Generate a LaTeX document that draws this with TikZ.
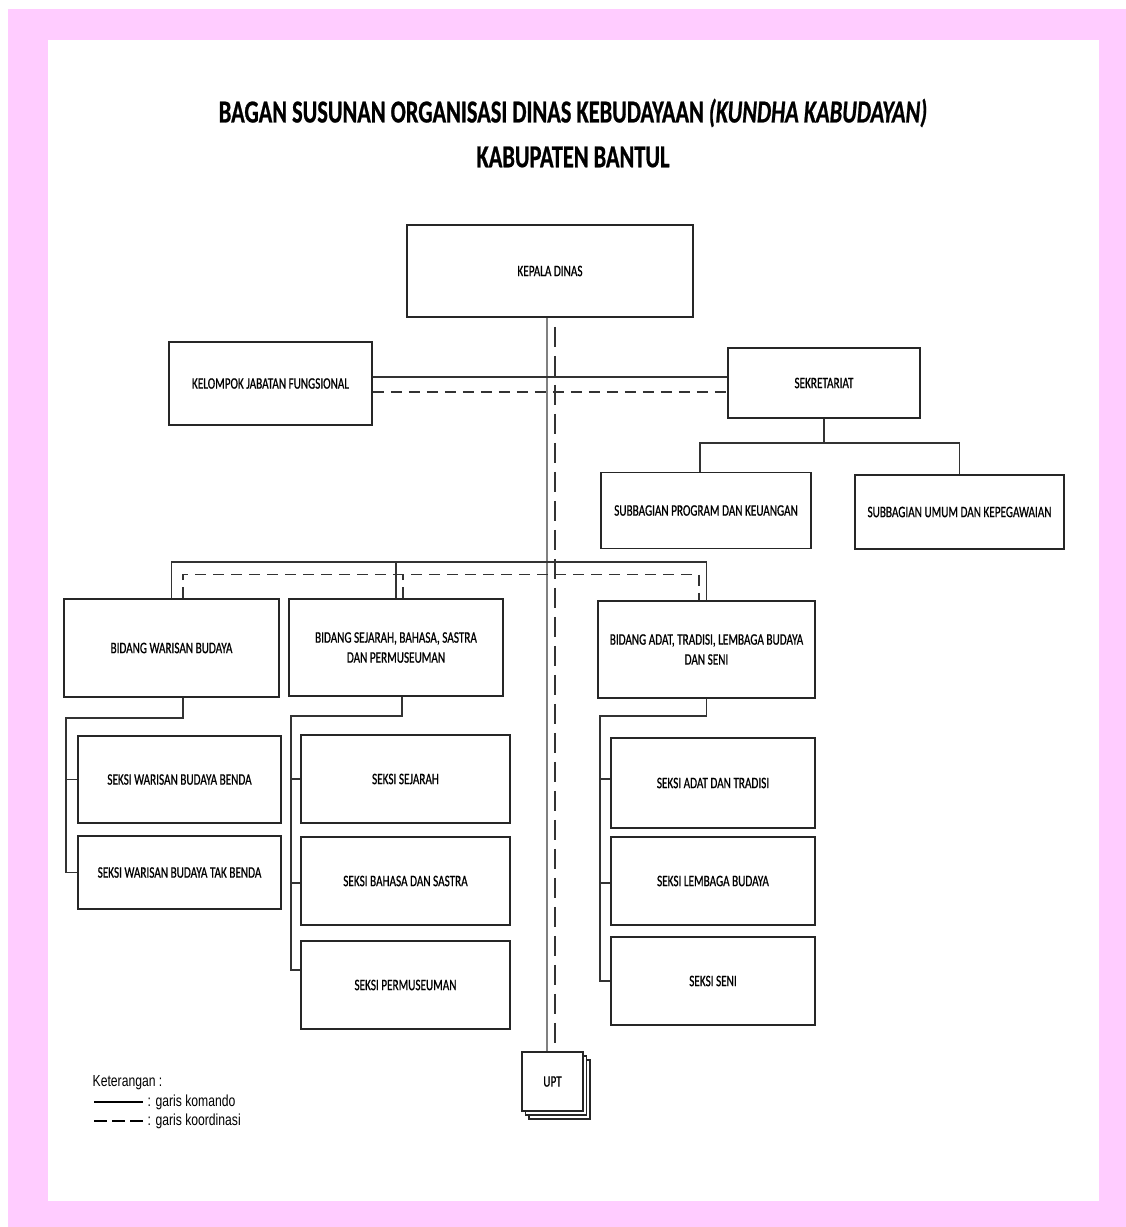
\documentclass[tikz,border=0pt]{standalone}
\usepackage{fontspec}
\setsansfont{Carlito}[FakeStretch=0.7,FakeBold=0.7]
\newfontfamily\ketfont{Liberation Sans}[FakeStretch=0.76]
\usepackage{tikz}
\usetikzlibrary{positioning,calc}
\definecolor{bgpink}{RGB}{255,204,255}
\tikzset{every picture/.style={line width=1.4pt}}
\tikzset{font=\sffamily\fontsize{16}{20}\selectfont}
\tikzstyle{kotak}=[draw=black!85,line width=1.8pt,fill=white,align=center,inner sep=2pt]
\tikzstyle{komando}=[draw=black!80,line width=1.4pt]
\tikzstyle{koordinasi}=[draw=black!80,line width=1.4pt,dash pattern=on 11pt off 7pt]
\tikzstyle{ket}=[anchor=west,inner sep=0pt,font=\ketfont\fontsize{16}{18}\selectfont]

\begin{document}
\begin{tikzpicture}[x=1pt,y=-1pt]
\useasboundingbox (0,0) rectangle (1126,1227);
\fill[bgpink] (8,9) rectangle (1126,1227);
\fill[white] (48,40) rectangle (1099,1201);

\node[font=\sffamily\bfseries\fontsize{32}{38}\selectfont] (judul1) at (573,113)
  {BAGAN SUSUNAN ORGANISASI DINAS KEBUDAYAAN \textit{(KUNDHA KABUDAYAN)}};
\node[font=\sffamily\bfseries\fontsize{32}{38}\selectfont] (judul2) at (573,157) {KABUPATEN BANTUL};

\node[kotak,minimum width=286,minimum height=92] (kepala) at (550,271) {KEPALA DINAS};
\node[kotak,minimum width=203,minimum height=83] (jafung) at (270.5,383.5) {KELOMPOK JABATAN FUNGSIONAL};
\node[kotak,minimum width=192,minimum height=70] (sekre) at (824,383) {SEKRETARIAT};
\node[kotak,minimum width=210,minimum height=76] (subprog) at (706,510.5) {SUBBAGIAN PROGRAM DAN KEUANGAN};
\node[kotak,minimum width=209,minimum height=74] (subumum) at (959.5,512) {SUBBAGIAN UMUM DAN KEPEGAWAIAN};

\node[kotak,minimum width=215,minimum height=98] (bwarisan) at (171.5,648) {BIDANG WARISAN BUDAYA};
\node[kotak,minimum width=214,minimum height=97] (bsejarah) at (396,647.5) {BIDANG SEJARAH, BAHASA, SASTRA\\DAN PERMUSEUMAN};
\node[kotak,minimum width=217,minimum height=97] (badat) at (706.5,649.5) {BIDANG ADAT, TRADISI, LEMBAGA BUDAYA\\DAN SENI};

\node[kotak,minimum width=203,minimum height=87] (swbenda) at (179.5,779.5) {SEKSI WARISAN BUDAYA BENDA};
\node[kotak,minimum width=203,minimum height=73] (swtak) at (179.5,872.5) {SEKSI WARISAN BUDAYA TAK BENDA};
\node[kotak,minimum width=209,minimum height=88] (ssejarah) at (405.5,779) {SEKSI SEJARAH};
\node[kotak,minimum width=209,minimum height=88] (sbahasa) at (405.5,881) {SEKSI BAHASA DAN SASTRA};
\node[kotak,minimum width=209,minimum height=88] (sperm) at (405.5,985) {SEKSI PERMUSEUMAN};
\node[kotak,minimum width=204,minimum height=90] (sadat) at (713,783) {SEKSI ADAT DAN TRADISI};
\node[kotak,minimum width=204,minimum height=88] (slembaga) at (713,881) {SEKSI LEMBAGA BUDAYA};
\node[kotak,minimum width=204,minimum height=88] (sseni) at (713,981) {SEKSI SENI};

\coordinate (uptc) at (552.5,1081.5);
\node[kotak,line width=1.4pt,minimum width=61,minimum height=59] (upt3) at ($(uptc)+(7,8)$) {};
\node[kotak,line width=1.4pt,minimum width=61,minimum height=59] (upt2) at ($(uptc)+(3.5,4)$) {};
\node[kotak,minimum width=61,minimum height=59] (upt) at (uptc) {UPT};

\coordinate (kx) at (547,0);
\coordinate (dx) at (555,0);
\coordinate (jfk) at (0,377);
\coordinate (jfd) at (0,392);
\coordinate (busS) at (0,443);
\coordinate (busB) at (0,562);
\coordinate (busD) at (0,574.5);
\coordinate (wtrunk) at (66,718);
\coordinate (strunk) at (291,716);
\coordinate (atrunk) at (600,716);

\draw[black!50,line width=1.2pt] (kepala.south -| kx) -- (upt.north -| kx);
\draw[koordinasi,dash pattern=on 20pt off 9pt,dash phase=20pt] (kepala.south -| dx) -- (upt.north -| dx);

\draw[komando] (jafung.east |- jfk) -- (sekre.west |- jfk);
\draw[koordinasi] (jafung.east |- jfd) -- (sekre.west |- jfd);

\draw[komando] (sekre.south) -- (sekre.south |- busS);
\draw[komando] ($(subprog.north)+(-6,0)$) |- (subumum.north |- busS) -- (subumum.north);

\draw[komando] (bwarisan.north) |- (badat.north |- busB) -- (badat.north);
\draw[komando] (bsejarah.north) -- (bsejarah.north |- busB);
\draw[koordinasi] ($(bwarisan.north)+(11.5,0)$) |- ($(badat.north |- busD)+(-7.5,0)$) -- ($(badat.north)+(-7.5,0)$);
\draw[koordinasi] ($(bsejarah.north)+(7,0)$) -- ($(bsejarah.north |- busD)+(7,0)$);

\draw[komando] ($(bwarisan.south)+(11.5,0)$) |- (wtrunk) -- (wtrunk |- swtak.west) -- (swtak.west);
\draw[komando] (swbenda.west) -- (swbenda.west -| wtrunk);

\draw[komando] ($(bsejarah.south)+(6,0)$) |- (strunk) -- (strunk |- 0,970) -- ($(sperm.west)+(0,-15)$);
\draw[komando] (ssejarah.west) -- (ssejarah.west -| strunk);
\draw[komando] ($(sbahasa.west)+(0,2)$) -- ($(sbahasa.west -| strunk)+(0,2)$);

\draw[komando] (badat.south) |- (atrunk) -- (atrunk |- sseni.west) -- (sseni.west);
\draw[komando] ($(sadat.west)+(0,-4)$) -- ($(sadat.west -| atrunk)+(0,-4)$);
\draw[komando] ($(slembaga.west)+(0,2)$) -- ($(slembaga.west -| atrunk)+(0,2)$);

\node[ket] (keterangan) at (92,1083) {Keterangan :};
\node[ket] (lkom) at (147,1102) {: garis komando};
\node[ket] (lkoor) at (147,1121) {: garis koordinasi};
\coordinate (lk) at (94,1102);
\coordinate (ld) at (94,1121);
\draw[black,line width=1.3pt] (lk) -- (lkom.west -| 143,0);
\draw[black,line width=1.8pt,dash pattern=on 13pt off 5pt] (ld) -- (lkoor.west -| 143,0);
\end{tikzpicture}
\end{document}
